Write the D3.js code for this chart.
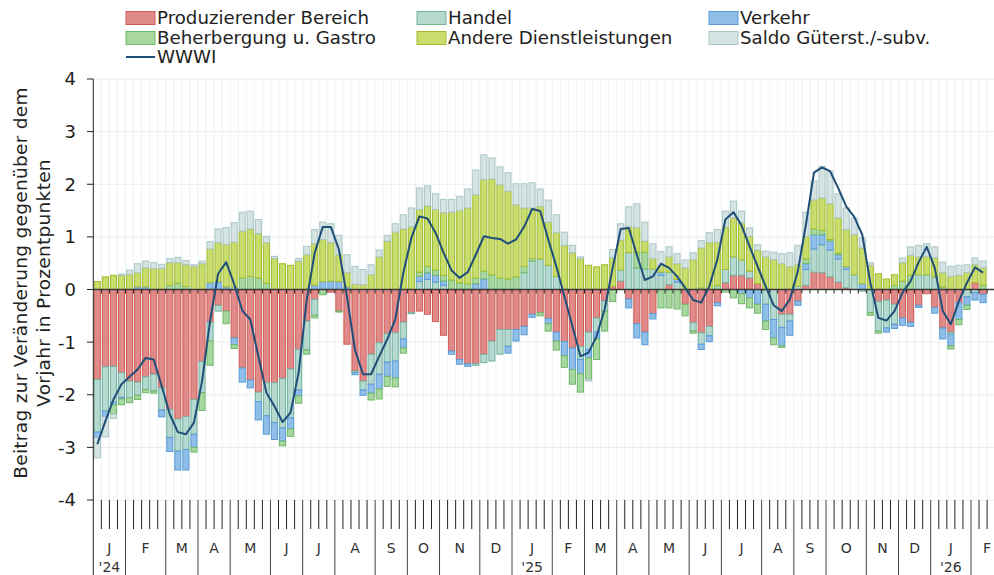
<!DOCTYPE html>
<html>
<head>
<meta charset="utf-8">
<script src="https://cdn.jsdelivr.net/npm/d3@7"></script>
<style>
  body { margin: 0; background: #fff; }
  text { font-family: "DejaVu Sans", sans-serif; fill: #222; }
</style>
</head>
<body>
<svg id="chart"></svg>
<script>
// weeks per month on the axis, Jan 2024 .. Feb 2026
const monthLabels = ["J","F","M","A","M","J","J","A","S","O","N","D",
                     "J","F","M","A","M","J","J","A","S","O","N","D","J","F"]
const monthWeeks = [4,5,4,4,5,4,4,5,4,4,5,4, 5,4,4,4,5,4,5,4,4,5,4,4, 5,4]
const yearLabels = { 0: "'24", 12: "'25", 24: "'26" }
const yTicks = [4,3,2,1,0,-1,-2,-3,-4]

// contributions in percentage points, one value per week
const produzierend = [-1.71,-1.47,-1.46,-1.58,-1.74,-1.76,-1.66,-1.61,-1.87,-2.28,-2.46,-2.41,-2.09,-1.37,-0.62,-0.3,-0.41,-0.92,-1.49,-1.72,
  -1.95,-1.77,-1.77,-1.69,-1.51,-1.14,-0.6,-0.19,0,-0.05,-0.41,-1.04,-1.55,-1.74,-1.23,-1.01,-0.84,-0.82,-0.62,-0.44,
  -0.41,-0.47,-0.61,-0.87,-1.17,-1.33,-1.41,-1.41,-1.23,-0.98,-0.76,-0.76,-0.76,-0.7,-0.47,-0.44,-0.55,-0.81,-0.99,-1.11,
  -1.08,-0.81,-0.54,-0.22,0.06,0.16,-0.18,-0.65,-0.81,-0.46,0,0.09,0,-0.28,-0.63,-0.82,-0.7,-0.25,0.13,0.27,
  0.27,0.22,0.11,0,0,-0.47,-0.47,-0.22,0.08,0.33,0.32,0.24,0.14,0.03,0,0,0,-0.23,-0.2,-0.28,
  -0.54,-0.62,-0.3,-0.08,-0.34,-0.73,-0.81,-0.25,0,0.13,-0.09]
const handel = [-1.0,-0.84,-0.68,-0.47,-0.32,-0.25,-0.24,-0.32,-0.42,-0.53,-0.61,-0.63,-0.66,-0.59,-0.36,-0.11,0,0.05,0,0,
  -0.18,-0.63,-0.76,-0.94,-0.93,-0.77,-0.55,-0.3,0,0,0,0,-0.03,-0.17,-0.57,-0.6,-0.54,-0.54,-0.32,-0.02,
  0.15,0.19,0.14,0.08,0,0,0,-0.03,-0.16,-0.38,-0.47,-0.32,0,0.32,0.54,0.58,0.46,0.25,0,0,
  -0.25,-0.33,-0.27,-0.19,0,0.21,0.7,0.41,0.39,0.39,0.27,0.24,0.14,0,-0.16,-0.22,-0.18,0,0.25,0.35,
  0.29,0.13,0,-0.28,-0.57,-0.25,-0.13,0.06,0.3,0.44,0.53,0.51,0.44,0.35,0.28,-0.03,-0.44,-0.56,-0.53,-0.38,
  0,0,0.28,0.28,0.24,0,-0.04,0,-0.14,-0.06,0]
const verkehr = [-0.11,-0.11,-0.05,-0.03,0,0.05,0.05,0,-0.13,-0.27,-0.36,-0.39,-0.25,0,0.13,0.15,0.05,-0.13,-0.27,-0.15,
  -0.35,-0.35,-0.32,-0.25,-0.21,-0.11,0,0.08,0.15,0.16,0.15,0.05,-0.04,-0.1,-0.17,-0.28,-0.27,-0.32,-0.17,0,
  0.1,0.13,0.13,0.08,-0.06,-0.09,-0.05,0.11,0.2,0,0,-0.13,-0.22,-0.16,-0.06,0,-0.1,-0.17,-0.27,-0.41,
  -0.27,-0.16,-0.13,0,0,0,-0.17,-0.27,-0.24,-0.1,0.06,0,0.05,0,0,-0.1,-0.11,-0.06,0,0,
  -0.08,-0.16,-0.28,-0.32,-0.35,-0.35,-0.27,-0.08,0.11,0.27,0.19,0.17,0.08,0.05,0,0.11,0,0,-0.08,-0.08,
  -0.14,-0.08,-0.04,0,-0.11,-0.21,-0.22,-0.32,-0.16,-0.14,-0.16]
const beherbergung = [0,0,-0.18,-0.11,-0.09,-0.08,-0.06,-0.04,0,0.08,0.12,0.06,-0.09,-0.34,-0.46,0,-0.24,-0.07,0.22,0.25,
  0.22,0.12,0,-0.09,-0.14,-0.14,-0.08,-0.05,-0.1,0,-0.02,0,0,0,-0.13,-0.19,-0.19,-0.17,-0.1,0,
  0.08,0.12,0.1,0.11,0.18,0.13,0.11,0.11,0.15,0.28,0.22,0.2,0.24,0.12,0.05,-0.06,-0.14,-0.17,-0.22,-0.28,
  -0.35,-0.41,-0.39,-0.38,-0.23,0,0,0.3,0.32,0,-0.35,-0.35,-0.37,-0.22,-0.04,0.03,0,0.08,-0.05,-0.16,
  -0.19,-0.19,-0.17,-0.16,-0.13,-0.03,0,0,0.09,0.11,0.08,0.03,0.03,0,0,0,-0.05,-0.04,0,0.08,
  0.16,0.27,0,0,0,0.05,-0.06,-0.1,-0.08,0,0.08]
const andere = [0.15,0.24,0.27,0.27,0.29,0.27,0.36,0.4,0.4,0.43,0.39,0.41,0.44,0.49,0.64,0.74,0.8,0.85,0.89,0.9,
  0.84,0.77,0.59,0.49,0.46,0.54,0.66,0.79,0.8,0.73,0.51,0.27,0.1,0.09,0.28,0.62,0.92,1.09,1.15,1.19,
  1.19,1.15,1.15,1.19,1.29,1.37,1.44,1.58,1.74,1.82,1.77,1.67,1.37,1.11,0.96,1.0,0.82,0.83,0.84,0.7,
  0.59,0.46,0.43,0.47,0.54,0.57,0.49,0.47,0.21,0.2,0.12,0.29,0.3,0.41,0.57,0.76,0.89,0.82,0.81,0.74,
  0.71,0.66,0.64,0.62,0.57,0.49,0.43,0.41,0.43,0.55,0.62,0.68,0.67,0.71,0.76,0.68,0.46,0.3,0.2,0.2,
  0.35,0.38,0.34,0.35,0.36,0.27,0.25,0.27,0.32,0.34,0.33]
const saldo = [-0.38,-0.38,-0.08,0.02,0.08,0.17,0.13,0.11,0.08,0.08,0.1,0.08,0.03,0.05,0.14,0.26,0.33,0.37,0.36,0.34,
  0.27,0.12,0.04,0,0,0.05,0.16,0.27,0.33,0.36,0.37,0.34,0.34,0.29,0.19,0.13,0.11,0.16,0.27,0.36,
  0.41,0.38,0.3,0.25,0.24,0.27,0.36,0.47,0.47,0.4,0.34,0.35,0.4,0.46,0.48,0.33,0.42,0.34,0.25,0.14,
  0.03,-0.03,0,0,0.16,0.31,0.38,0.45,0.36,0.28,0.27,0.19,0.19,0.15,0.13,0.14,0.19,0.24,0.3,0.32,
  0.22,0.16,0.1,0.11,0.14,0.19,0.27,0.37,0.46,0.36,0.6,0.62,0.46,0.41,0.32,0.19,0.05,0,0,0,
  0.09,0.16,0.22,0.24,0.21,0.2,0.19,0.19,0.15,0.13,0.13]
const wwwi = [-2.94,-2.5,-2.09,-1.8,-1.66,-1.52,-1.3,-1.33,-1.84,-2.37,-2.71,-2.75,-2.53,-1.75,-0.6,0.3,0.52,0.1,-0.4,-0.57,
  -1.27,-1.96,-2.22,-2.52,-2.34,-1.58,-0.2,0.7,1.19,1.19,0.76,-0.13,-1.15,-1.61,-1.61,-1.27,-0.95,-0.57,0.32,0.98,
  1.39,1.35,1.08,0.7,0.36,0.22,0.33,0.66,1.01,0.98,0.96,0.87,0.95,1.19,1.53,1.49,0.95,0.44,-0.13,-0.7,
  -1.27,-1.2,-0.89,-0.38,0.41,1.15,1.17,0.66,0.18,0.25,0.49,0.41,0.25,0.03,-0.2,-0.25,0.06,0.57,1.33,1.47,
  1.22,0.82,0.44,0.06,-0.3,-0.41,-0.19,0.35,1.23,2.22,2.32,2.25,1.93,1.58,1.38,1.04,0.13,-0.54,-0.59,-0.41,
  -0.06,0.16,0.52,0.81,0.41,-0.41,-0.66,-0.22,0.13,0.42,0.32]

const series = [
  { key: "prod", name: "Produzierender Bereich", values: produzierend, fill: "#e08b89", stroke: "#d45a57" },
  { key: "handel", name: "Handel", values: handel, fill: "#b5d8cf", stroke: "#72b2a1" },
  { key: "verkehr", name: "Verkehr", values: verkehr, fill: "#8fbee8", stroke: "#5a9bd6" },
  { key: "beh", name: "Beherbergung u. Gastro", values: beherbergung, fill: "#a9d7a0", stroke: "#6fb868" },
  { key: "andere", name: "Andere Dienstleistungen", values: andere, fill: "#c9dd6d", stroke: "#a2bd2c" },
  { key: "saldo", name: "Saldo Güterst./-subv.", values: saldo, fill: "#d5e3e3", stroke: "#abc7c7" }
]

const width = 994, height = 575
const nWeeks = d3.sum(monthWeeks)

const svg = d3.select("#chart").attr("width", width).attr("height", height)

let xw = d3.scaleLinear().domain([0, nWeeks]).range([93.3, 1003.2])
let y = d3.scaleLinear().domain([-4, 4]).range([500, 79])
const step = xw(1) - xw(0)

// gridlines
svg.append("g").selectAll("line")
  .data(d3.range(1, nWeeks))
  .enter().append("line")
  .attr("x1", d => xw(d)).attr("x2", d => xw(d))
  .attr("y1", y(4)).attr("y2", y(-4))
  .attr("stroke", "#edf2f2").attr("stroke-width", 1)

svg.append("g").selectAll("line")
  .data(yTicks)
  .enter().append("line")
  .attr("x1", xw(0)).attr("x2", width)
  .attr("y1", d => y(d)).attr("y2", d => y(d))
  .attr("stroke", "#e8eeee").attr("stroke-width", 1)

// stacked bars
let rows = produzierend.map((_, i) => {
  let r = { i: i }
  series.forEach(s => { r[s.key] = s.values[i] })
  return r
})
let stacked = d3.stack()
  .keys(series.map(s => s.key))
  .offset(d3.stackOffsetDiverging)(rows)

let barGroups = svg.append("g").selectAll("g")
  .data(stacked)
  .enter().append("g")
  .attr("fill", (d, k) => series[k].fill)
  .attr("stroke", (d, k) => series[k].stroke)
  .attr("stroke-width", 1)

barGroups.selectAll("rect")
  .data(d => d.filter(p => p[1] !== p[0]))
  .enter().append("rect")
  .attr("x", d => xw(d.data.i) + 1)
  .attr("width", step - 2)
  .attr("y", d => y(Math.max(d[0], d[1])))
  .attr("height", d => Math.abs(y(d[0]) - y(d[1])))

// zero line with small week ticks
svg.append("line")
  .attr("x1", xw(0)).attr("x2", width)
  .attr("y1", y(0)).attr("y2", y(0))
  .attr("stroke", "#3a3a3a").attr("stroke-width", 1.6)
svg.append("g").selectAll("line")
  .data(d3.range(1, nWeeks))
  .enter().append("line")
  .attr("x1", d => xw(d)).attr("x2", d => xw(d))
  .attr("y1", y(0)).attr("y2", y(0) + 4)
  .attr("stroke", "#222").attr("stroke-width", 1)

// WWWI line
let line = d3.line()
  .x((d, i) => xw(i + 0.5))
  .y(d => y(d))
svg.append("path")
  .datum(wwwi)
  .attr("d", line)
  .attr("fill", "none")
  .attr("stroke", "#1f4e79")
  .attr("stroke-width", 2)
  .attr("stroke-linejoin", "round")

// y axis
svg.append("line")
  .attr("x1", xw(0)).attr("x2", xw(0))
  .attr("y1", y(4)).attr("y2", height)
  .attr("stroke", "#222").attr("stroke-width", 1)
let yAxis = svg.append("g")
yAxis.selectAll("line")
  .data(yTicks)
  .enter().append("line")
  .attr("x1", 87).attr("x2", xw(0))
  .attr("y1", d => y(d)).attr("y2", d => y(d))
  .attr("stroke", "#222")
yAxis.selectAll("text")
  .data(yTicks)
  .enter().append("text")
  .attr("x", 76).attr("y", d => y(d))
  .attr("dy", "0.36em")
  .attr("text-anchor", "end")
  .style("font-size", "18px")
  .text(d => d)

let yTitle = svg.append("text")
  .attr("transform", "translate(27,283) rotate(-90)")
  .attr("text-anchor", "middle")
  .style("font-size", "18.5px")
  .style("letter-spacing", "0.3px")
yTitle.append("tspan").attr("x", 0).attr("dy", 0).text("Beitrag zur Veränderung gegenüber dem")
yTitle.append("tspan").attr("x", 0).attr("dy", 23).text("Vorjahr in Prozentpunkten")

// x axis: week ticks and month separators
let monthStart = [0]
monthWeeks.forEach((w, k) => monthStart.push(monthStart[k] + w))
let isMonthEdge = new Set(monthStart)

svg.append("g").selectAll("line")
  .data(d3.range(1, nWeeks + 1))
  .enter().append("line")
  .attr("x1", d => xw(d)).attr("x2", d => xw(d))
  .attr("y1", y(-4))
  .attr("y2", d => isMonthEdge.has(d) ? height : 529)
  .attr("stroke", d => isMonthEdge.has(d) ? "#444" : "#222")
  .attr("stroke-width", 1)

svg.append("g").selectAll("text")
  .data(monthLabels)
  .enter().append("text")
  .attr("x", (d, k) => xw((monthStart[k] + monthStart[k + 1]) / 2))
  .attr("y", 553)
  .attr("text-anchor", "middle")
  .style("font-size", "14px")
  .style("fill", "#333")
  .text(d => d)

svg.append("g").selectAll("text")
  .data(Object.keys(yearLabels))
  .enter().append("text")
  .attr("x", k => xw((monthStart[+k] + monthStart[+k + 1]) / 2))
  .attr("y", 572)
  .attr("text-anchor", "middle")
  .style("font-size", "14px")
  .style("fill", "#333")
  .text(k => yearLabels[k])

// legend
let legendX = [126, 417, 709]
let legendY = [18, 38, 57]
let legend = svg.append("g")
series.forEach((s, k) => {
  let lx = legendX[k % 3], ly = legendY[Math.floor(k / 3)]
  legend.append("rect")
    .attr("x", lx).attr("y", ly - 6.5)
    .attr("width", 29).attr("height", 13)
    .attr("fill", s.fill).attr("stroke", s.stroke)
  legend.append("text")
    .attr("x", lx + 31).attr("y", ly)
    .attr("dy", "0.35em")
    .style("font-size", "18.2px")
    .text(s.name)
})
legend.append("line")
  .attr("x1", legendX[0]).attr("x2", legendX[0] + 29)
  .attr("y1", legendY[2]).attr("y2", legendY[2])
  .attr("stroke", "#1f4e79").attr("stroke-width", 2)
legend.append("text")
  .attr("x", legendX[0] + 31).attr("y", legendY[2])
  .attr("dy", "0.35em")
  .style("font-size", "18.2px")
  .text("WWWI")
</script>
</body>
</html>
